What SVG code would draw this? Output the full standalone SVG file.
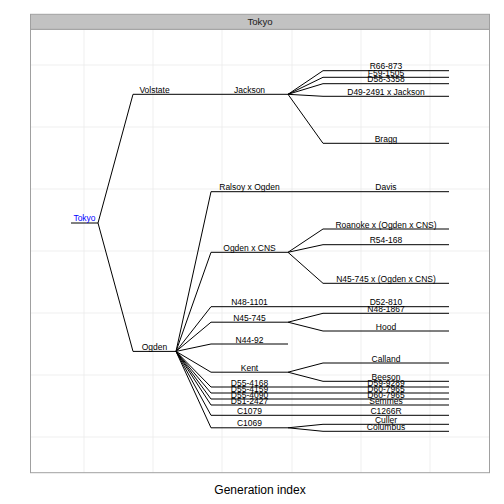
<svg xmlns="http://www.w3.org/2000/svg" width="504" height="504" viewBox="0 0 504 504">
<style>
.grid{stroke:#EBEBEB;stroke-width:0.8;fill:none}
.e{stroke:#000;stroke-width:1;fill:none}
.l{font-family:"Liberation Sans",Arial,sans-serif;font-size:8.5px;text-anchor:middle;fill:#000}
.root{fill:#0000FF}
</style>
<rect x="0" y="0" width="504" height="504" fill="#FFFFFF"/>
<g id="panel">
<rect x="30.5" y="29.3" width="459" height="443.4" fill="#FFFFFF"/>
<g class="grid">
<path d="M84 29.3V472.7M153 29.3V472.7M222 29.3V472.7M292 29.3V472.7M361 29.3V472.7M430 29.3V472.7"/>
<path d="M30.5 65H489.5M30.5 127H489.5M30.5 189H489.5M30.5 251H489.5M30.5 313H489.5M30.5 375H489.5M30.5 437H489.5"/>
</g>
<rect x="30.5" y="29.3" width="459" height="443.4" fill="none" stroke="#A0A0A0" stroke-width="1"/>
</g>
<g id="strip">
<rect x="30.5" y="14.3" width="459" height="15" fill="#C2C2C2" stroke="#A0A0A0" stroke-width="1"/>
<text x="260" y="25.3" font-family="Liberation Sans,Arial,sans-serif" font-size="9.6" text-anchor="middle" fill="#1A1A1A">Tokyo</text>
</g>
<g id="connectors" class="e">
<path d="M98 223L133 94.3M98 223L133 351.4"/>
<path d="M176 94.3L211 94.3"/>
<path d="M288 94.3L323 70.7M288 94.3L323 77.3M288 94.3L323 83.7M288 94.3L323 96.3M288 94.3L323 143.3"/>
<path d="M176 351.4L211 191.7M176 351.4L211 252.3M176 351.4L211 306.7M176 351.4L211 322.2M176 351.4L211 344M176 351.4L211 372.2M176 351.4L211 387M176 351.4L211 393M176 351.4L211 399M176 351.4L211 405M176 351.4L211 415.3M176 351.4L211 427.8"/>
<path d="M288 191.7L323 191.7"/>
<path d="M288 252.3L323 229M288 252.3L323 244.7M288 252.3L323 283.3"/>
<path d="M288 306.7L323 306.7"/>
<path d="M288 322.2L323 313.3M288 322.2L323 331"/>
<path d="M288 372.2L323 363M288 372.2L323 381.3"/>
<path d="M288 387L323 387M288 393L323 393M288 399L323 399M288 405L323 405M288 415.3L323 415.3"/>
<path d="M288 427.8L323 424.3M288 427.8L323 431.3"/>
</g>
<g id="n-Tokyo"><path class="e" d="M71 223H98"/><text class="l root" x="84.5" y="221.3">Tokyo</text></g>
<g id="n-Volstate"><path class="e" d="M133 94.3H176"/><text class="l" x="154.5" y="92.8">Volstate</text></g>
<g id="n-Ogden"><path class="e" d="M133 351.4H176"/><text class="l" x="154.5" y="349.9">Ogden</text></g>
<g id="n-Jackson"><path class="e" d="M211 94.3H288"/><text class="l" x="249.5" y="92.8">Jackson</text></g>
<g id="n-R66-873"><path class="e" d="M323 70.7H449"/><text class="l" x="386" y="69.2">R66-873</text></g>
<g id="n-F59-1505"><path class="e" d="M323 77.3H449"/><text class="l" x="386" y="75.8">F59-1505</text></g>
<g id="n-D58-3358"><path class="e" d="M323 83.7H449"/><text class="l" x="386" y="82.2">D58-3358</text></g>
<g id="n-D49-2491xJackson"><path class="e" d="M323 96.3H449"/><text class="l" x="386" y="94.8">D49-2491 x Jackson</text></g>
<g id="n-Bragg"><path class="e" d="M323 143.3H449"/><text class="l" x="386" y="141.8">Bragg</text></g>
<g id="n-RalsoyxOgden"><path class="e" d="M211 191.7H288"/><text class="l" x="249.5" y="190.2">Ralsoy x Ogden</text></g>
<g id="n-Davis"><path class="e" d="M323 191.7H449"/><text class="l" x="386" y="190.2">Davis</text></g>
<g id="n-OgdenxCNS"><path class="e" d="M211 252.3H288"/><text class="l" x="249.5" y="250.8">Ogden x CNS</text></g>
<g id="n-Roanoke"><path class="e" d="M323 229H449"/><text class="l" x="386" y="227.5">Roanoke x (Ogden x CNS)</text></g>
<g id="n-R54-168"><path class="e" d="M323 244.7H449"/><text class="l" x="386" y="243.2">R54-168</text></g>
<g id="n-N45-745xOgdenxCNS"><path class="e" d="M323 283.3H449"/><text class="l" x="386" y="281.8">N45-745 x (Ogden x CNS)</text></g>
<g id="n-N48-1101"><path class="e" d="M211 306.7H288"/><text class="l" x="249.5" y="305.2">N48-1101</text></g>
<g id="n-D52-810"><path class="e" d="M323 306.7H449"/><text class="l" x="386" y="305.2">D52-810</text></g>
<g id="n-N45-745"><path class="e" d="M211 322.2H288"/><text class="l" x="249.5" y="320.7">N45-745</text></g>
<g id="n-N48-1867"><path class="e" d="M323 313.3H449"/><text class="l" x="386" y="311.8">N48-1867</text></g>
<g id="n-Hood"><path class="e" d="M323 331H449"/><text class="l" x="386" y="329.5">Hood</text></g>
<g id="n-N44-92"><path class="e" d="M211 344H288"/><text class="l" x="249.5" y="342.5">N44-92</text></g>
<g id="n-Kent"><path class="e" d="M211 372.2H288"/><text class="l" x="249.5" y="370.7">Kent</text></g>
<g id="n-Calland"><path class="e" d="M323 363H449"/><text class="l" x="386" y="361.5">Calland</text></g>
<g id="n-Beeson"><path class="e" d="M323 381.3H449"/><text class="l" x="386" y="379.8">Beeson</text></g>
<g id="n-D55-4168"><path class="e" d="M211 387H288"/><text class="l" x="249.5" y="385.5">D55-4168</text></g>
<g id="n-D59-9289"><path class="e" d="M323 387H449"/><text class="l" x="386" y="385.5">D59-9289</text></g>
<g id="n-D55-4159"><path class="e" d="M211 393H288"/><text class="l" x="249.5" y="391.5">D55-4159</text></g>
<g id="n-D60-7965-a"><path class="e" d="M323 393H449"/><text class="l" x="386" y="391.5">D60-7965</text></g>
<g id="n-D55-4090"><path class="e" d="M211 399H288"/><text class="l" x="249.5" y="397.5">D55-4090</text></g>
<g id="n-D60-7965-b"><path class="e" d="M323 399H449"/><text class="l" x="386" y="397.5">D60-7965</text></g>
<g id="n-D51-2427"><path class="e" d="M211 405H288"/><text class="l" x="249.5" y="403.5">D51-2427</text></g>
<g id="n-Semmes"><path class="e" d="M323 405H449"/><text class="l" x="386" y="403.5">Semmes</text></g>
<g id="n-C1079"><path class="e" d="M211 415.3H288"/><text class="l" x="249.5" y="413.8">C1079</text></g>
<g id="n-C1266R"><path class="e" d="M323 415.3H449"/><text class="l" x="386" y="413.8">C1266R</text></g>
<g id="n-C1069"><path class="e" d="M211 427.8H288"/><text class="l" x="249.5" y="426.3">C1069</text></g>
<g id="n-Culler"><path class="e" d="M323 424.3H449"/><text class="l" x="386" y="422.8">Culler</text></g>
<g id="n-Columbus"><path class="e" d="M323 431.3H449"/><text class="l" x="386" y="429.8">Columbus</text></g>
<text x="260" y="494" font-family="Liberation Sans,Arial,sans-serif" font-size="12" text-anchor="middle" fill="#000">Generation index</text>
</svg>
